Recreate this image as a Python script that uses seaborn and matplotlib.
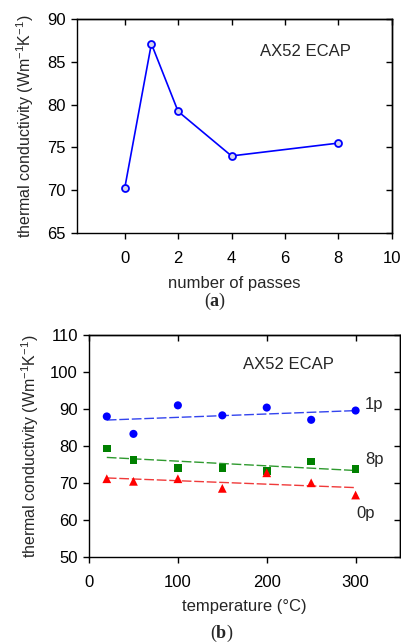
import numpy as np
import pandas as pd
import matplotlib
matplotlib.use("Agg")
import matplotlib.pyplot as plt
import seaborn as sns

# ---- data ----
passes = [0, 1, 2, 4, 8]
cond_passes = [70.2, 87.1, 79.2, 74.0, 75.5]

temps = [20, 50, 100, 150, 200, 250, 300]
cond_1p = [88.0, 83.3, 91.0, 88.3, 90.4, 87.1, 89.6]
cond_8p = [79.4, 76.2, 74.1, 74.1, 73.3, 75.9, 73.9]
cond_0p = [71.2, 70.5, 71.2, 68.6, 72.8, 70.1, 66.8]

top_xticks = [0, 2, 4, 6, 8, 10]
top_yticks = [65, 70, 75, 80, 85, 90]
bot_xticks = [0, 100, 200, 300]
bot_yticks = [50, 60, 70, 80, 90, 100, 110]

sns.set_style("ticks")
plt.rcParams["font.family"] = ["Liberation Sans", "DejaVu Sans"]
plt.rcParams["mathtext.default"] = "regular"
plt.rcParams["mathtext.fontset"] = "custom"
plt.rcParams["mathtext.rm"] = "Liberation Sans"
plt.rcParams["mathtext.bf"] = "Liberation Serif:bold"
plt.rcParams["axes.linewidth"] = 1.0
plt.rcParams["xtick.major.width"] = 1.0
plt.rcParams["ytick.major.width"] = 1.0
plt.rcParams["xtick.major.size"] = 4
plt.rcParams["ytick.major.size"] = 4
plt.rcParams["xtick.color"] = "black"
plt.rcParams["ytick.color"] = "black"
plt.rcParams["axes.edgecolor"] = "black"

fig = plt.figure(figsize=(4.01, 6.43), dpi=100)
ylab = "thermal conductivity (Wm$^{-1}$K$^{-1}$)"
FS = 12
YFS = 11.5

def add_inner_ticks(ax, xt, yt):
    sx = ax.secondary_xaxis("top")
    sx.set_xticks(xt)
    sx.tick_params(direction="in", labeltop=False, length=4, width=1)
    sy = ax.secondary_yaxis("right")
    sy.set_yticks(yt)
    sy.tick_params(direction="in", labelright=False, length=4, width=1)

# ---- top panel ----
ax1 = fig.add_axes([0.191, 0.6376, 0.786, 0.333])
df1 = pd.DataFrame({"passes": passes, "cond": cond_passes})
sns.lineplot(data=df1, x="passes", y="cond", ax=ax1, color="#0000ff", lw=1.2,
             marker="o", markersize=5, markerfacecolor="#d4d4ee",
             markeredgecolor="#0000ff", markeredgewidth=1.3)
ax1.set_xlim(-1.8, 10)
ax1.set_ylim(65, 90)
ax1.set_xticks(top_xticks)
ax1.set_yticks(top_yticks)
ax1.tick_params(labelsize=FS, direction="out")
ax1.tick_params(axis="x", pad=9)
ax1.tick_params(axis="y", pad=4)
ax1.set_xlabel("number of passes", fontsize=FS, labelpad=7)
ax1.set_ylabel(ylab, fontsize=YFS, labelpad=8)
ax1.text(6.75, 86.2, "AX52 ECAP", fontsize=FS, ha="center", va="center")
for s in ax1.spines.values():
    s.set_visible(True)
add_inner_ticks(ax1, top_xticks, top_yticks)

# ---- bottom panel ----
ax2 = fig.add_axes([0.222, 0.1333, 0.7756, 0.3458])
series = [
    ("1p", cond_1p, "#0000ff", "#3344ee", "o", 34),
    ("8p", cond_8p, "#008000", "#2f9a2f", "s", 30),
    ("0p", cond_0p, "#ff0000", "#f03a3a", "^", 40),
]
for name, vals, col, lcol, mk, sz in series:
    d = pd.DataFrame({"T": temps, "k": vals})
    sns.regplot(data=d, x="T", y="k", ax=ax2, ci=None, scatter=False,
                line_kws=dict(color=lcol, lw=1.0, dashes=(7, 2)))
    sns.scatterplot(data=d, x="T", y="k", ax=ax2, color=col, marker=mk,
                    s=sz, edgecolor="none", linewidth=0, zorder=3)
ax2.set_xlim(0, 350)
ax2.set_ylim(50, 110)
ax2.set_xticks(bot_xticks)
ax2.set_yticks(bot_yticks)
ax2.tick_params(labelsize=FS, direction="out")
ax2.tick_params(axis="x", pad=9)
ax2.tick_params(axis="y", pad=4)
ax2.set_xlabel("temperature (°C)", fontsize=FS, labelpad=6)
ax2.set_ylabel(ylab, fontsize=YFS, labelpad=6.5)
ax2.text(224, 101.9, "AX52 ECAP", fontsize=FS, ha="center", va="center")
ax2.text(321, 91.1, "1p", fontsize=FS, ha="center", va="center")
ax2.text(321, 76.4, "8p", fontsize=FS, ha="center", va="center")
ax2.text(311, 61.9, "0p", fontsize=FS, ha="center", va="center")
for s in ax2.spines.values():
    s.set_visible(True)
add_inner_ticks(ax2, bot_xticks, bot_yticks)

fig.text(215 / 401, 1 - 301.7 / 643, r"($\mathbf{a}$)", fontsize=13,
         ha="center", va="center", family="Liberation Serif")
fig.text(221.7 / 401, 1 - 633 / 643, r"($\mathbf{b}$)", fontsize=13,
         ha="center", va="center", family="Liberation Serif")

fig.savefig("out.png", dpi=100)
